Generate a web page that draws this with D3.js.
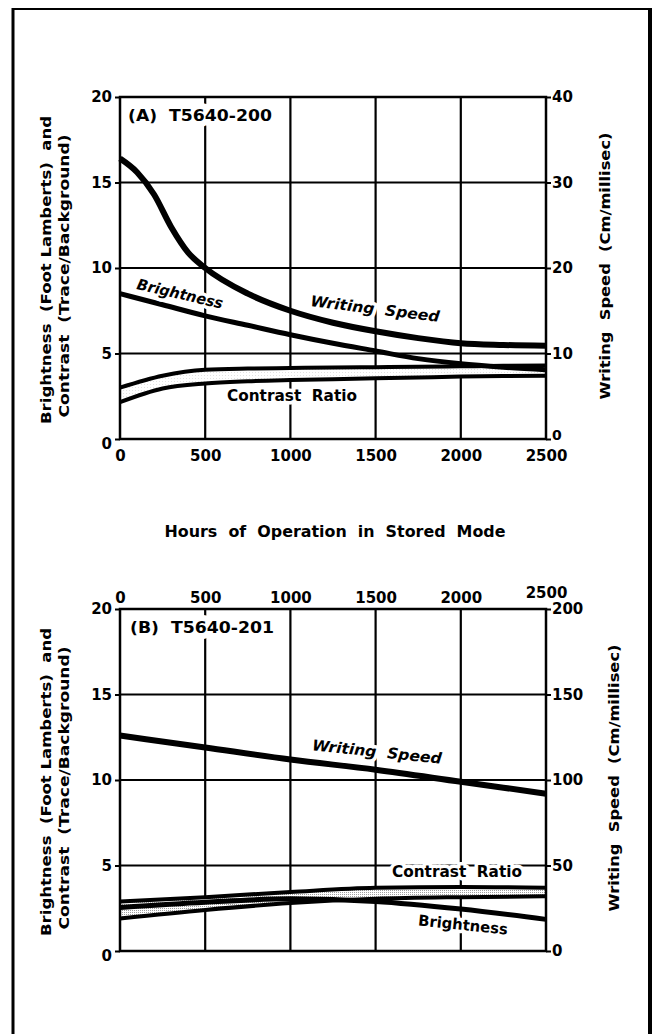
<!DOCTYPE html>
<html><head><meta charset="utf-8">
<script src="https://cdn.jsdelivr.net/npm/d3@7"></script>
<style>
html,body{margin:0;padding:0;background:#fff;}
svg{display:block;}
text{font-family:"DejaVu Sans",sans-serif;font-weight:bold;fill:#000;white-space:pre;}
</style></head>
<body>
<script>
// ---------- DATA ----------
// Panel A : T5640-200
const hoursA = [0,250,500,750,1000,1250,1500,1750,2000,2250,2500];
const hoursWsA = [0,100,200,300,400,500,750,1000,1250,1500,1750,2000,2250,2500];
const writingSpeedA = [32.8,31.2,28.6,24.8,21.8,20.0,17.0,15.0,13.6,12.6,11.8,11.2,11.0,10.9]; // Cm/millisec
const brightnessA = [8.5,7.85,7.2,6.65,6.1,5.6,5.15,4.7,4.4,4.2,4.05];           // foot lamberts
const contrastUpperA = [3.0,3.7,4.05,4.12,4.15,4.18,4.2,4.22,4.25,4.28,4.3];
const contrastLowerA = [2.15,2.95,3.25,3.38,3.45,3.5,3.55,3.6,3.65,3.68,3.7];
// Panel B : T5640-201
const hoursB = [0,500,1000,1500,2000,2500];
const writingSpeedB = [126,119,112,106,99,92];
const contrastUpperB = [2.9,3.15,3.45,3.7,3.75,3.7];
const contrastLowerB = [1.9,2.4,2.8,3.05,3.15,3.2];
const brightnessB = [2.55,2.85,3.05,2.9,2.45,1.85];
// Ticks
const hourTicks = [0,500,1000,1500,2000,2500];
const leftTicks = [0,5,10,15,20];
const rightTicksA = [0,10,20,30,40];
const rightTicksB = [0,50,100,150,200];
const xTitle = "Hours  of  Operation  in  Stored  Mode";
const leftTitle1 = "Brightness  (Foot Lamberts)  and";
const leftTitle2 = "Contrast  (Trace/Background)";
const rightTitle = "Writing  Speed  (Cm/millisec)";

// ---------- LAYOUT ----------
const W = 654, H = 1034;
const svg = d3.select("body").append("svg").attr("width", W).attr("height", H);

const defs = svg.append("defs");
function dotPattern(id, color, size){
  const p = defs.append("pattern").attr("id", id).attr("patternUnits","userSpaceOnUse")
    .attr("width", size).attr("height", size);
  p.append("rect").attr("width", size).attr("height", size).attr("fill","#fff");
  p.append("rect").attr("x",0).attr("y",0).attr("width",1).attr("height",1).attr("fill",color);
}
dotPattern("dotsA", "#e2e2e2", 3);
dotPattern("dotsB", "#a0a0a0", 2);

// outer frame
svg.append("line").attr("x1",13).attr("x2",13).attr("y1",8).attr("y2",H).attr("stroke","#000").attr("stroke-width",3);
svg.append("line").attr("x1",650).attr("x2",650).attr("y1",8).attr("y2",H).attr("stroke","#000").attr("stroke-width",4);
svg.append("line").attr("x1",12).attr("x2",652).attr("y1",9).attr("y2",9).attr("stroke","#000").attr("stroke-width",2);

const xL = 120, xR = 546;
const fmt = d3.format("d");

function panel(opts){
  const g = svg.append("g");
  const x = d3.scaleLinear().domain([0,2500]).range([xL,xR]);
  const y = d3.scaleLinear().domain([0,20]).range([opts.bottom, opts.top]);
  const y2 = d3.scaleLinear().domain([0,opts.rightMax]).range([opts.bottom, opts.top]);

  // grid
  g.selectAll(".vg").data(hourTicks.slice(1,-1)).join("line")
    .attr("x1", d=>x(d)).attr("x2", d=>x(d)).attr("y1", opts.top).attr("y2", opts.bottom)
    .attr("stroke","#000").attr("stroke-width",2.2);
  g.selectAll(".hg").data(leftTicks.slice(1,-1)).join("line")
    .attr("x1", xL).attr("x2", xR).attr("y1", d=>y(d)).attr("y2", d=>y(d))
    .attr("stroke","#000").attr("stroke-width",2);

  // axes
  const ax = (sel)=>{ sel.select(".domain").remove(); sel.selectAll("line").attr("stroke","#000").attr("stroke-width",2);
    sel.selectAll("text").style("font-family","DejaVu Sans").style("font-weight","bold").style("font-size","15px"); };
  g.append("g").attr("transform",`translate(${xL},0)`)
    .call(d3.axisLeft(y).tickValues(leftTicks).tickFormat(fmt).tickSize(5).tickPadding(3)).call(ax)
    .selectAll(".tick").filter(d=>d===0).select("text").attr("dy","0.6em");
  const ra = g.append("g").attr("transform",`translate(${xR},0)`)
    .call(d3.axisRight(y2).tickValues(opts.rightTicks).tickFormat(fmt).tickSize(5).tickPadding(1)).call(ax);
  if(opts.xBottom){
    ra.selectAll(".tick").filter(d=>d===0).select("text").attr("dy","0.05em").style("font-size","14px");
    g.append("g").attr("transform",`translate(0,${opts.bottom})`)
      .call(d3.axisBottom(x).tickValues(hourTicks).tickFormat(fmt).tickSize(0).tickPadding(11)).call(ax);
  } else {
    const xa = g.append("g").attr("transform",`translate(0,${opts.top})`)
      .call(d3.axisTop(x).tickValues(hourTicks).tickFormat(fmt).tickSize(0).tickPadding(6)).call(ax);
    xa.selectAll(".tick").filter(d=>d===2500).select("text").attr("y",-11);
  }

  // contrast band
  const band = opts.hoursC.map((h,i)=>({h, u:opts.cu[i], l:opts.cl[i]}));
  g.append("path").datum(band)
    .attr("d", d3.area().x(d=>x(d.h)).y0(d=>y(d.l)).y1(d=>y(d.u)).curve(d3.curveMonotoneX))
    .attr("fill", `url(#${opts.pattern})`);

  const line = (hs, vs, sc, w) => {
    g.append("path").datum(hs.map((h,i)=>[h,vs[i]]))
      .attr("d", d3.line().x(d=>x(d[0])).y(d=>sc(d[1])).curve(d3.curveMonotoneX))
      .attr("fill","none").attr("stroke","#000").attr("stroke-width",w).attr("stroke-linejoin","round");
  };
  line(opts.hoursC, opts.cu, y, 4);
  line(opts.hoursC, opts.cl, y, 4);
  line(opts.hoursB, opts.br, y, 5);
  line(opts.hoursW, opts.ws, y2, 6);

  // frame
  g.append("rect").attr("x",xL).attr("y",opts.top).attr("width",xR-xL).attr("height",opts.bottom-opts.top)
    .attr("fill","none").attr("stroke","#000").attr("stroke-width",2.5);

  // titles
  const midY = (opts.top+opts.bottom)/2;
  const t = (str, cx, cy, len, size, rot, extra) => {
    const el = svg.append("text").text(str)
      .attr("text-anchor","middle").attr("dominant-baseline","central")
      .attr("transform",`translate(${cx},${cy}) rotate(${rot||0})`)
      .style("font-size", size+"px")
      .attr("textLength", len).attr("lengthAdjust","spacingAndGlyphs");
    if(extra) extra(el);
    return el;
  };
  const halo = w => el => el.attr("stroke","#fff").attr("stroke-width",w).attr("paint-order","stroke").attr("stroke-linejoin","round");
  t(leftTitle1, 46, midY+2, 308, 14, -90);
  t(leftTitle2, 64, midY+8, 283, 14, -90);
  t(rightTitle, opts.rightTitleX, midY-2, 267, 14, -90);
  t(opts.label, opts.labelX, opts.top+19, 144, 15, 0, halo(12));
  opts.notes.forEach(n => t(n.text, n.x, n.y, n.len, 15, n.rot, el => { halo(7)(el); if(n.italic) el.style("font-style","italic"); }));
}

panel({
  top: 97, bottom: 439, rightMax: 40, rightTicks: rightTicksA, xBottom: true,
  hoursC: hoursA, cu: contrastUpperA, cl: contrastLowerA,
  hoursB: hoursA, br: brightnessA, hoursW: hoursWsA, ws: writingSpeedA,
  pattern: "dotsA", rightTitleX: 605, label: "(A)  T5640-200", labelX: 200,
  notes: [
    {text:"Brightness", x:180, y:294, len:88, rot:13, italic:true},
    {text:"Writing  Speed", x:375, y:309, len:130, rot:7, italic:true},
    {text:"Contrast  Ratio", x:292, y:396, len:130, rot:0}
  ]
});

panel({
  top: 609, bottom: 951, rightMax: 200, rightTicks: rightTicksB, xBottom: false,
  hoursC: hoursB, cu: contrastUpperB, cl: contrastLowerB,
  hoursB: hoursB, br: brightnessB, hoursW: hoursB, ws: writingSpeedB,
  pattern: "dotsB", rightTitleX: 614, label: "(B)  T5640-201", labelX: 202,
  notes: [
    {text:"Writing  Speed", x:377, y:752, len:130, rot:6, italic:true},
    {text:"Contrast  Ratio", x:457, y:872, len:130, rot:0},
    {text:"Brightness", x:463, y:925, len:90, rot:6}
  ]
});

svg.append("text").text(xTitle).attr("x",335).attr("y",532)
  .attr("text-anchor","middle").attr("dominant-baseline","central")
  .style("font-size","15px").attr("textLength",341).attr("lengthAdjust","spacingAndGlyphs");
</script>
</body></html>
